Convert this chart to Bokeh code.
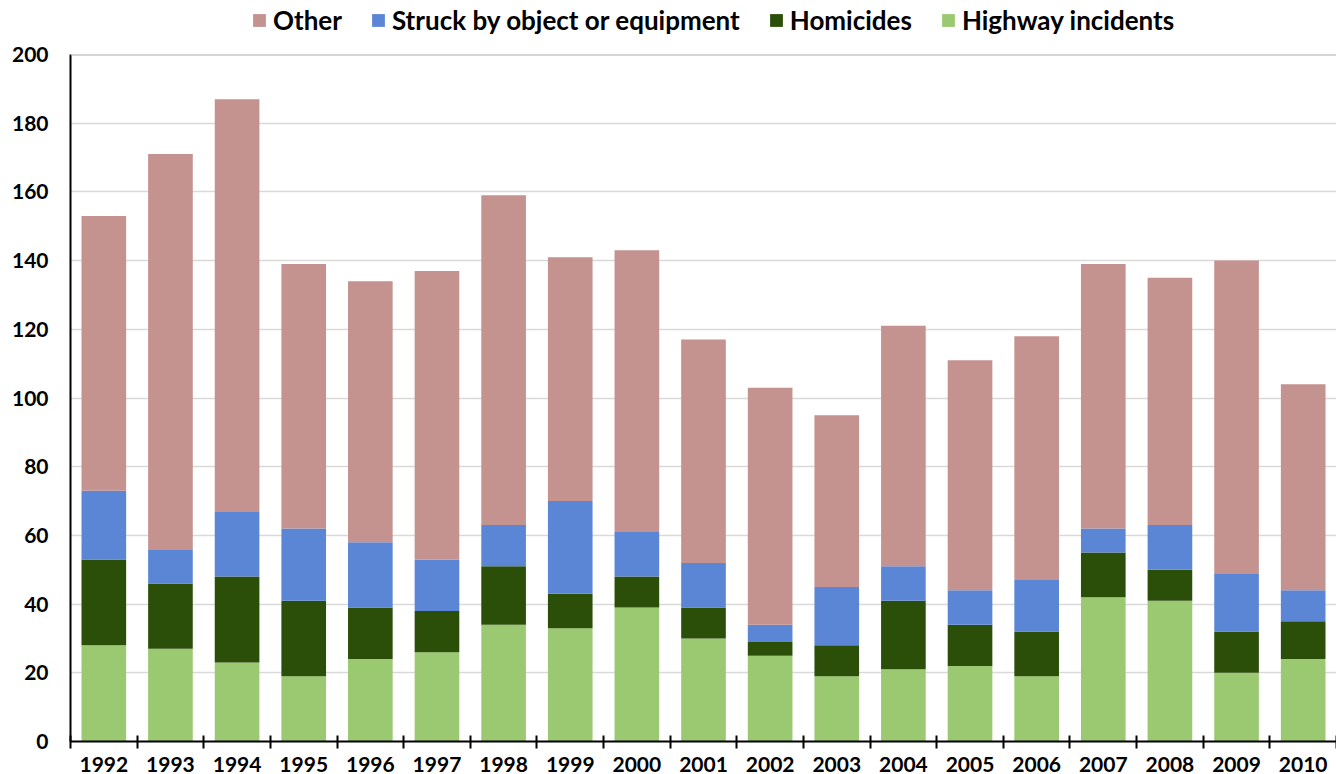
from bokeh.plotting import figure
from bokeh.layouts import column
from bokeh.models import (FixedTicker, Legend, LegendItem, Span, ColumnDataSource)
from bokeh.embed import file_html
from bokeh.resources import INLINE

years = ["1992", "1993", "1994", "1995", "1996", "1997", "1998", "1999", "2000", "2001",
         "2002", "2003", "2004", "2005", "2006", "2007", "2008", "2009", "2010"]
highway = [28, 27, 23, 19, 24, 26, 34, 33, 39, 30, 25, 19, 21, 22, 19, 42, 41, 20, 24]
homicides = [25, 19, 25, 22, 15, 12, 17, 10, 9, 9, 4, 9, 20, 12, 13, 13, 9, 12, 11]
struck = [20, 10, 19, 21, 19, 15, 12, 27, 13, 13, 5, 17, 10, 10, 15, 7, 13, 17, 9]
other = [80, 115, 120, 77, 76, 84, 96, 71, 82, 65, 69, 50, 70, 67, 71, 77, 72, 91, 60]
y_ticks = [0, 20, 40, 60, 80, 100, 120, 140, 160, 180, 200]

series = ["highway", "homicides", "struck", "other"]
labels = ["Highway incidents", "Homicides", "Struck by object or equipment", "Other"]
colors = ["#9BC971", "#2B4F08", "#5B86D6", "#C4928F"]

xs = [i + 0.5 for i in range(len(years))]
src = ColumnDataSource(dict(x=xs, highway=highway, homicides=homicides,
                            struck=struck, other=other))

FONT = "Lato"

# legend strip (its swatch renderers sit outside the visible range)
pl = figure(width=1336, height=36, output_backend="svg", toolbar_location=None,
            x_range=(0, 1), y_range=(0, 1), x_axis_type=None, y_axis_type=None,
            min_border=0)
pl.outline_line_color = None
pl.grid.grid_line_color = None
hidden = ColumnDataSource(dict(x=[10], top=[10]))
leg_rs = [pl.vbar(x="x", top="top", bottom=5, width=0.5, source=hidden, color=c,
                  line_color=None) for c in colors]
items = [LegendItem(label=labels[i], renderers=[leg_rs[i]]) for i in reversed(range(4))]
legend = Legend(items=items, orientation="horizontal", location=(181, 0),
                label_text_font=FONT, label_text_font_style="bold",
                label_text_font_size="26px", label_text_color="#000000",
                label_height=26, glyph_width=16, glyph_height=16, label_standoff=6, spacing=28,
                padding=0, margin=0, border_line_color=None, background_fill_alpha=0)
pl.add_layout(legend, "center")

# main chart
p = figure(width=1336, height=738, output_backend="svg", toolbar_location=None,
           x_range=(0, len(years)), y_range=(0, 200),
           min_border_left=70, min_border_right=0, min_border_top=18, min_border_bottom=0)

p.vbar_stack(series, x="x", width=0.67, source=src, color=colors, line_color=None)

p.outline_line_color = None
p.xgrid.grid_line_color = None
p.ygrid.grid_line_color = "#D9D9D9"
p.ygrid.grid_line_width = 1.5
p.add_layout(Span(location=200, dimension="width", line_color="#ABABAB", line_width=2))

p.xaxis.ticker = FixedTicker(ticks=xs, minor_ticks=list(range(len(years) + 1)))
p.xaxis.major_label_overrides = {x: y for x, y in zip(xs, years)}
p.xaxis.major_tick_line_color = None
p.xaxis.major_tick_out = 0
p.xaxis.major_tick_in = 0
p.xaxis.minor_tick_line_color = "#000000"
p.xaxis.minor_tick_line_width = 2
p.xaxis.minor_tick_in = 6
p.xaxis.minor_tick_out = 7
p.xaxis.axis_line_color = "#000000"
p.xaxis.axis_line_width = 2
p.xaxis.major_label_standoff = 8
p.xaxis.major_label_text_font = FONT
p.xaxis.major_label_text_font_style = "bold"
p.xaxis.major_label_text_font_size = "21px"
p.xaxis.major_label_text_color = "#000000"

p.yaxis.ticker = FixedTicker(ticks=y_ticks)
p.yaxis.major_tick_line_color = None
p.yaxis.major_tick_out = 0
p.yaxis.major_tick_in = 0
p.yaxis.minor_tick_line_color = None
p.yaxis.axis_line_color = "#000000"
p.yaxis.axis_line_width = 2
p.yaxis.major_label_standoff = 22
p.yaxis.major_label_text_font = FONT
p.yaxis.major_label_text_font_style = "bold"
p.yaxis.major_label_text_font_size = "21px"
p.yaxis.major_label_text_color = "#000000"

layout = column(pl, p, spacing=0)
open("out.html", "w").write(file_html(layout, INLINE))
